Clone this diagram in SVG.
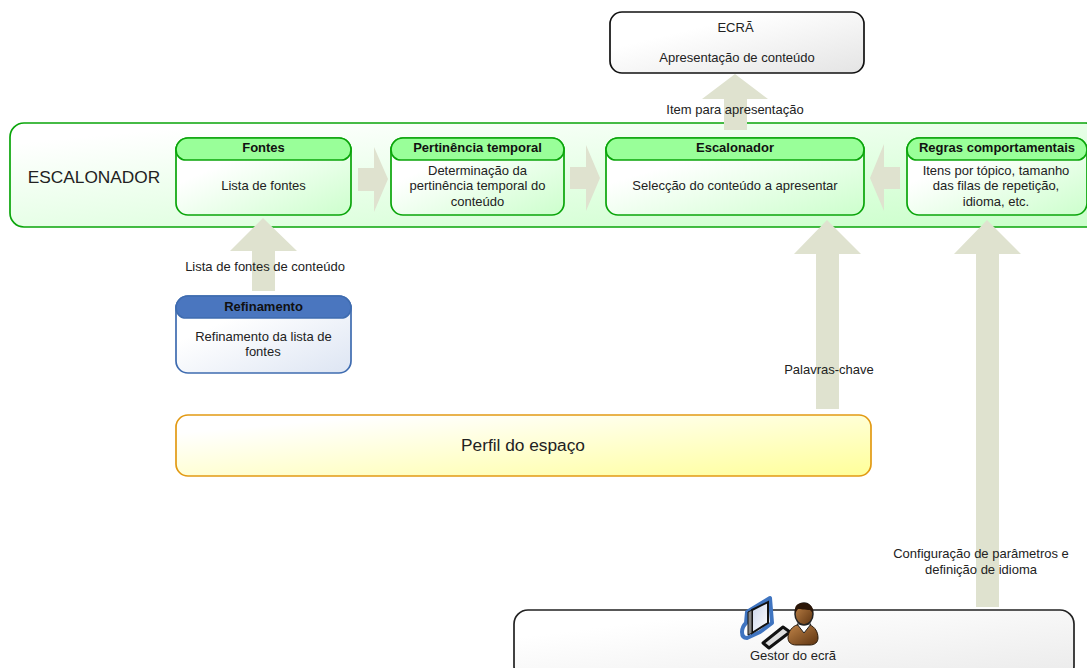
<svg xmlns="http://www.w3.org/2000/svg" width="1087" height="668" viewBox="0 0 1087 668">
<defs>
<linearGradient id="gGreen" x1="0" y1="0" x2="1" y2="1"><stop offset="0.3" stop-color="#ffffff"/><stop offset="1" stop-color="#ccffcc"/></linearGradient>
<linearGradient id="gOuter" x1="0" y1="0" x2="1" y2="1"><stop offset="0.1" stop-color="#ffffff"/><stop offset="0.95" stop-color="#ccffcc"/></linearGradient>
<linearGradient id="gBlue" x1="0" y1="0" x2="1" y2="1"><stop offset="0.3" stop-color="#ffffff"/><stop offset="1" stop-color="#dde5f3"/></linearGradient>
<linearGradient id="gGrey" x1="0" y1="0" x2="1" y2="1"><stop offset="0.3" stop-color="#ffffff"/><stop offset="1" stop-color="#e4e4e4"/></linearGradient>
<linearGradient id="gGrey2" x1="0" y1="0" x2="1" y2="1"><stop offset="0.2" stop-color="#ffffff"/><stop offset="1" stop-color="#eaeaea"/></linearGradient>
<linearGradient id="gYellow" x1="0" y1="0" x2="1" y2="1"><stop offset="0.15" stop-color="#ffffff"/><stop offset="1" stop-color="#ffff99"/></linearGradient>
<linearGradient id="gFace" x1="0" y1="0" x2="1" y2="1"><stop offset="0" stop-color="#c08448"/><stop offset="1" stop-color="#5d3310"/></linearGradient>
<linearGradient id="gScreen" x1="0" y1="0" x2="1" y2="1"><stop offset="0" stop-color="#c9d4ea"/><stop offset="1" stop-color="#ffffff"/></linearGradient>
</defs>
<style>
text{font-family:"Liberation Sans",Arial,sans-serif;font-size:13px;fill:#222;text-anchor:middle}
.b{font-weight:bold;font-size:13px;fill:#111}
.big{font-size:17.300px}
.box{fill:url(#gGreen);stroke:#0aa50a;stroke-width:1.7}
.hd{fill:#99ff99;stroke:#0aa50a;stroke-width:1.7}
.ar{fill:#dfe2cf}
</style>
<g id="escalonador-container">
<rect x="10" y="123" width="1090" height="104" rx="14" fill="url(#gOuter)" stroke="#0aa50a" stroke-width="1.7"/>
<text class="big" x="94" y="183">ESCALONADOR</text>
</g>
<g id="connectors">
<polygon class="ar" points="252,291 275,291 275,251 297,251 263,218 230,251 252,251"/>
<polygon class="ar" points="358,168 374,168 374,147 388,179 374,212 374,191 358,191"/>
<polygon class="ar" points="570,167 586,167 586,145 600,178 586,211 586,189 570,189"/>
<polygon class="ar" points="900,167 884,167 884,144 870,178 884,211 884,189 900,189"/>
<polygon class="ar" points="724,130 747,130 747,99 768,99 735,74 702,99 724,99"/>
<polygon class="ar" points="816,409 839,409 839,254 861,254 827,220 794,254 816,254"/>
<polygon class="ar" points="976,607 999,607 999,254 1021,254 987,220 954,254 976,254"/>
</g>
<g id="ecra">
<rect x="610" y="12" width="254" height="61" rx="12" fill="url(#gGrey)" stroke="#111" stroke-width="1.7"/>
<text x="735.500" y="32">ECRÃ</text>
<text x="737" y="62">Apresentação de conteúdo</text>
</g>
<g id="fontes">
<rect class="box" x="176" y="138" width="175" height="77" rx="12"/>
<path class="hd" d="M176 150a12 12 0 0 1 12-12h151a12 12 0 0 1 12 12v0a10 10 0 0 1-10 10h-155a10 10 0 0 1-10-10z"/>
<text class="b" x="263.500" y="152">Fontes</text>
<text x="263.500" y="190">Lista de fontes</text>
</g>
<g id="pertinencia">
<rect class="box" x="391" y="138" width="173" height="77" rx="12"/>
<path class="hd" d="M391 150a12 12 0 0 1 12-12h149a12 12 0 0 1 12 12v0a10 10 0 0 1-10 10h-153a10 10 0 0 1-10-10z"/>
<text class="b" x="477.500" y="152">Pertinência temporal</text>
<text x="477.500" y="175">Determinação da</text>
<text x="477.500" y="190">pertinência temporal do</text>
<text x="477.500" y="206">conteúdo</text>
</g>
<g id="escalonador">
<rect class="box" x="606" y="138" width="258" height="77" rx="12"/>
<path class="hd" d="M606 150a12 12 0 0 1 12-12h234a12 12 0 0 1 12 12v0a10 10 0 0 1-10 10h-238a10 10 0 0 1-10-10z"/>
<text class="b" x="735" y="152">Escalonador</text>
<text x="735" y="190">Selecção do conteúdo a apresentar</text>
</g>
<g id="regras">
<rect class="box" x="907" y="138" width="180" height="77" rx="12"/>
<path class="hd" d="M907 150a12 12 0 0 1 12-12h156a12 12 0 0 1 12 12v0a10 10 0 0 1-10 10h-160a10 10 0 0 1-10-10z"/>
<text class="b" x="997" y="152">Regras comportamentais</text>
<text x="996" y="175">Itens por tópico, tamanho</text>
<text x="996" y="190">das filas de repetição,</text>
<text x="996" y="206">idioma, etc.</text>
</g>
<g id="refinamento">
<rect x="176" y="296" width="175" height="77" rx="12" fill="url(#gBlue)" stroke="#3f6cb0" stroke-width="1.7"/>
<path d="M176 308a12 12 0 0 1 12-12h151a12 12 0 0 1 12 12v0a10 10 0 0 1-10 10h-155a10 10 0 0 1-10-10z" fill="#4a76bf" stroke="#3f6cb0" stroke-width="1.7"/>
<text class="b" x="263.500" y="311">Refinamento</text>
<text x="263.500" y="341">Refinamento da lista de</text>
<text x="263" y="356">fontes</text>
</g>
<g id="perfil">
<rect x="176" y="415" width="695" height="61" rx="12" fill="url(#gYellow)" stroke="#e29a14" stroke-width="1.7"/>
<text class="big" x="523" y="451">Perfil do espaço</text>
</g>
<g id="gestor">
<rect x="514" y="610" width="560" height="70" rx="14" fill="url(#gGrey2)" stroke="#222" stroke-width="1.7"/>
<path d="M747 612L770 598L772 623L760 632L747 638Q742 638 742 632Q742 627 746 623z" fill="#fff" stroke="#3f74c0" stroke-width="4" stroke-linejoin="round"/>
<polygon points="752,610 768,602 768,623 752,633" fill="url(#gScreen)" stroke="#111" stroke-width="2"/>
<polygon points="748,612 752,610 752,633 748,635" fill="#888" stroke="#111"/>
<polygon points="763,643 783,627 790,632 769,648" fill="#ddd" stroke="#111" stroke-width="3" stroke-linejoin="round"/>
<path d="M788 638c0-7 5-12 9-13h13c5 2 8 7 8 13 0 4-3 7-8 7h-14c-5 0-8-3-8-7z" fill="url(#gFace)" stroke="#2a1a0a"/>
<path d="M797 624l7 9 7-9z" fill="#fff" stroke="#222"/>
<ellipse cx="804" cy="614" rx="9" ry="11" fill="url(#gFace)" stroke="#222" stroke-width="1.500"/>
<path d="M795 613c-1-8 3-10 8-10 6 0 11 3 10 10l-3-3c-5 0-10-1-12-1z" fill="#2b1608"/>
<text x="793" y="660">Gestor do ecrã</text>
</g>
<g id="labels">
<text x="735" y="114">Item para apresentação</text>
<text x="265" y="271">Lista de fontes de conteúdo</text>
<text x="829" y="374">Palavras-chave</text>
<text x="981" y="558">Configuração de parâmetros e</text>
<text x="981" y="574">definição de idioma</text>
</g>
</svg>
